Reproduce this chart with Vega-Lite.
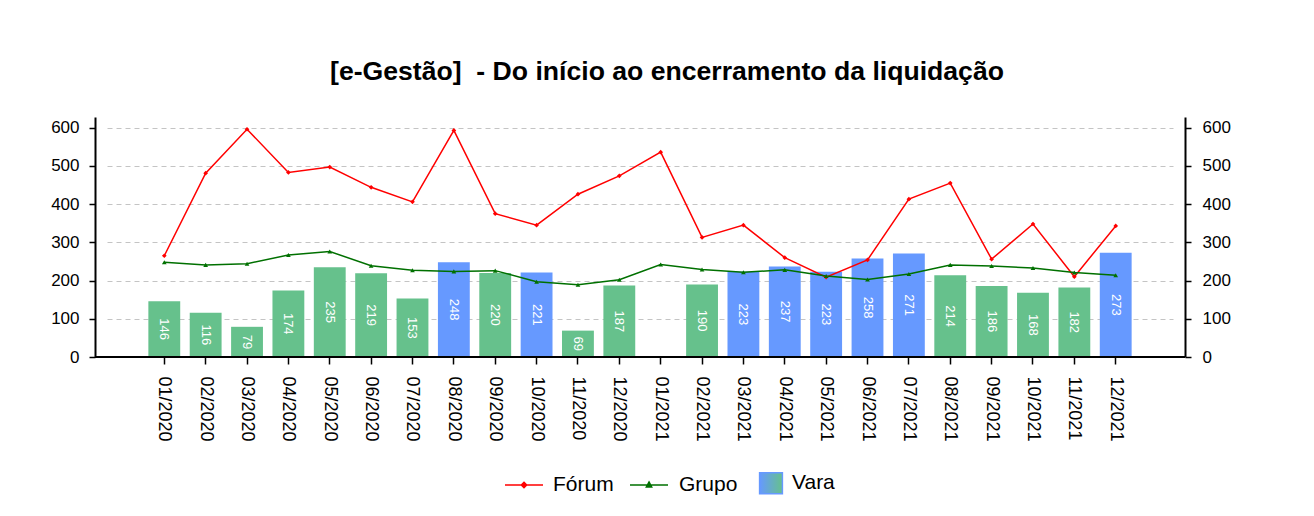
{
  "$schema": "https://vega.github.io/schema/vega-lite/v6.json",
  "width": 1090,
  "height": 240,
  "autosize": {"type": "none"},
  "padding": {"left": 95, "top": 117, "right": 129, "bottom": 159},
  "background": "white",
  "config": {
    "view": {"stroke": null},
    "font": "Liberation Sans",
    "axis": {"labelFont": "Liberation Sans", "labelColor": "#000", "domainColor": "#000", "tickColor": "#000"}
  },
  "title": {
    "text": "[e-Gestão]\u00a0 - Do início ao encerramento da liquidação",
    "fontSize": 26.6,
    "fontWeight": "bold",
    "font": "Liberation Sans",
    "color": "#000",
    "anchor": "middle",
    "offset": 31,
    "dx": 27
  },
  "data": {
    "values": [
      {"mes": "01/2020", "Fórum": 265, "Grupo": 248, "vara": 146, "cor": "abaixo"},
      {"mes": "02/2020", "Fórum": 481, "Grupo": 241, "vara": 116, "cor": "abaixo"},
      {"mes": "03/2020", "Fórum": 596, "Grupo": 244, "vara": 79, "cor": "abaixo"},
      {"mes": "04/2020", "Fórum": 483, "Grupo": 267, "vara": 174, "cor": "abaixo"},
      {"mes": "05/2020", "Fórum": 497, "Grupo": 276, "vara": 235, "cor": "abaixo"},
      {"mes": "06/2020", "Fórum": 444, "Grupo": 239, "vara": 219, "cor": "abaixo"},
      {"mes": "07/2020", "Fórum": 406, "Grupo": 227, "vara": 153, "cor": "abaixo"},
      {"mes": "08/2020", "Fórum": 593, "Grupo": 224, "vara": 248, "cor": "acima"},
      {"mes": "09/2020", "Fórum": 375, "Grupo": 226, "vara": 220, "cor": "abaixo"},
      {"mes": "10/2020", "Fórum": 345, "Grupo": 197, "vara": 221, "cor": "acima"},
      {"mes": "11/2020", "Fórum": 426, "Grupo": 189, "vara": 69, "cor": "abaixo"},
      {"mes": "12/2020", "Fórum": 474, "Grupo": 202, "vara": 187, "cor": "abaixo"},
      {"mes": "01/2021", "Fórum": 536, "Grupo": 242, "vara": null, "cor": null},
      {"mes": "02/2021", "Fórum": 313, "Grupo": 229, "vara": 190, "cor": "abaixo"},
      {"mes": "03/2021", "Fórum": 345, "Grupo": 222, "vara": 223, "cor": "acima"},
      {"mes": "04/2021", "Fórum": 260, "Grupo": 228, "vara": 237, "cor": "acima"},
      {"mes": "05/2021", "Fórum": 209, "Grupo": 212, "vara": 223, "cor": "acima"},
      {"mes": "06/2021", "Fórum": 254, "Grupo": 203, "vara": 258, "cor": "acima"},
      {"mes": "07/2021", "Fórum": 413, "Grupo": 217, "vara": 271, "cor": "acima"},
      {"mes": "08/2021", "Fórum": 455, "Grupo": 241, "vara": 214, "cor": "abaixo"},
      {"mes": "09/2021", "Fórum": 256, "Grupo": 238, "vara": 186, "cor": "abaixo"},
      {"mes": "10/2021", "Fórum": 348, "Grupo": 233, "vara": 168, "cor": "abaixo"},
      {"mes": "11/2021", "Fórum": 210, "Grupo": 221, "vara": 182, "cor": "abaixo"},
      {"mes": "12/2021", "Fórum": 343, "Grupo": 214, "vara": 273, "cor": "acima"}
    ]
  },
  "layer": [
    {
      "mark": {"type": "bar"},
      "encoding": {
        "x": {
          "field": "mes",
          "type": "nominal",
          "sort": null,
          "scale": {
            "domain": ["01/2020", "02/2020", "03/2020", "04/2020", "05/2020", "06/2020", "07/2020", "08/2020", "09/2020", "10/2020", "11/2020", "12/2020", "01/2021", "02/2021", "03/2021", "04/2021", "05/2021", "06/2021", "07/2021", "08/2021", "09/2021", "10/2021", "11/2021", "12/2021"],
            "paddingInner": 0.23,
            "paddingOuter": 1,
            "range": [12, 1078]
          },
          "axis": {
            "title": null,
            "domain": false,
            "labelAngle": 90,
            "labelAlign": "left",
            "labelBaseline": "middle",
            "labelFontSize": 18,
            "labelPadding": 12,
            "tickSize": 7,
            "tickWidth": 1.5,
            "grid": false
          }
        },
        "y": {
          "field": "vara",
          "type": "quantitative",
          "scale": {"domain": [0, 628], "nice": false},
          "axis": {
            "title": null,
            "orient": "left",
            "values": [0, 100, 200, 300, 400, 500, 600],
            "labelFontSize": 17,
            "labelPadding": 10,
            "tickSize": 6,
            "tickWidth": 1.5,
            "domainWidth": 2,
            "grid": true,
            "gridColor": "#c4c4c4",
            "gridDash": [5, 4],
            "gridWidth": 1
          }
        },
        "fill": {
          "field": "cor",
          "type": "nominal",
          "scale": {"domain": ["acima", "abaixo"], "range": ["#6699ff", "#66c18c"]},
          "legend": null
        }
      }
    },
    {
      "transform": [
        {"filter": "datum.vara != null"},
        {"calculate": "datum.vara / 2", "as": "meio"}
      ],
      "mark": {"type": "text", "angle": 90, "color": "white", "fontSize": 13, "font": "Liberation Sans", "align": "center", "baseline": "middle"},
      "encoding": {
        "x": {"field": "mes", "type": "nominal", "sort": null},
        "y": {"field": "meio", "type": "quantitative", "scale": {"domain": [0, 628], "nice": false}, "axis": null},
        "text": {"field": "vara", "type": "quantitative"}
      }
    },
    {
      "mark": {"type": "rule", "color": "#000", "strokeWidth": 2},
      "encoding": {
        "y": {"datum": 0, "type": "quantitative", "scale": {"domain": [0, 628], "nice": false}, "axis": null}
      }
    },
    {
      "transform": [{"fold": ["Fórum", "Grupo"], "as": ["serie", "valor"]}],
      "mark": {"type": "line", "strokeWidth": 1.5},
      "encoding": {
        "x": {"field": "mes", "type": "nominal", "sort": null},
        "y": {
          "field": "valor",
          "type": "quantitative",
          "scale": {"domain": [0, 628], "nice": false},
          "axis": {
            "title": null,
            "orient": "right",
            "values": [0, 100, 200, 300, 400, 500, 600],
            "labelFontSize": 17,
            "labelPadding": 11,
            "tickSize": 6,
            "tickWidth": 1.5,
            "domainWidth": 2,
            "grid": false
          }
        },
        "color": {
          "field": "serie",
          "type": "nominal",
          "scale": {"domain": ["Fórum", "Grupo", "Vara"], "range": ["#ff0000", "#007000", "#6699ff"]},
          "legend": {
            "title": null,
            "orient": "none",
            "legendX": 409,
            "legendY": 346,
            "direction": "horizontal",
            "labelFont": "Liberation Sans",
            "labelFontSize": 21,
            "labelColor": "#000",
            "symbolSize": 1444,
            "labelOffset": 9,
            "columnPadding": 13,
            "encode": {
              "symbols": {
                "update": {
                  "shape": [
                    {"test": "datum.value === 'Fórum'", "value": "M-1,0L1,0M0,-0.14L0.14,0L0,0.14L-0.14,0Z"},
                    {"test": "datum.value === 'Grupo'", "value": "M-1,0L1,0M0,-0.16L0.14,0.1L-0.14,0.1Z"},
                    {"value": "M-0.6,-0.55L0.6,-0.55L0.6,0.55L-0.6,0.55Z"}
                  ],
                  "fill": [
                    {"test": "datum.value === 'Fórum'", "value": "#ff0000"},
                    {"test": "datum.value === 'Grupo'", "value": "#007000"},
                    {"value": {"gradient": "linear", "x1": 0, "y1": 0, "x2": 1, "y2": 0, "stops": [{"offset": 0, "color": "#6699ff"}, {"offset": 1, "color": "#66c18c"}]}}
                  ],
                  "stroke": [
                    {"test": "datum.value === 'Fórum'", "value": "#ff0000"},
                    {"test": "datum.value === 'Grupo'", "value": "#007000"},
                    {"value": "transparent"}
                  ],
                  "strokeWidth": {"value": 1.5},
                  "opacity": {"value": 1},
                  "fillOpacity": {"value": 1}
                }
              },
              "labels": {
                "update": {
                  "dx": [
                    {"test": "datum.value === 'Vara'", "value": -8},
                    {"test": "datum.value === 'Grupo'", "value": 1},
                    {"value": 0}
                  ]
                }
              }
            }
          }
        }
      }
    },
    {
      "transform": [{"fold": ["Fórum", "Grupo"], "as": ["serie", "valor"]}],
      "mark": {"type": "point", "filled": true, "size": 22, "opacity": 1},
      "encoding": {
        "x": {"field": "mes", "type": "nominal", "sort": null},
        "y": {"field": "valor", "type": "quantitative", "scale": {"domain": [0, 628], "nice": false}, "axis": null},
        "fill": {
          "field": "serie",
          "type": "nominal",
          "scale": {"domain": ["Fórum", "Grupo"], "range": ["#ff0000", "#007000"]},
          "legend": null
        },
        "shape": {
          "field": "serie",
          "type": "nominal",
          "scale": {"domain": ["Fórum", "Grupo"], "range": ["diamond", "triangle-up"]},
          "legend": null
        }
      }
    }
  ],
  "resolve": {"scale": {"y": "independent", "fill": "independent"}, "axis": {"y": "independent"}}
}
